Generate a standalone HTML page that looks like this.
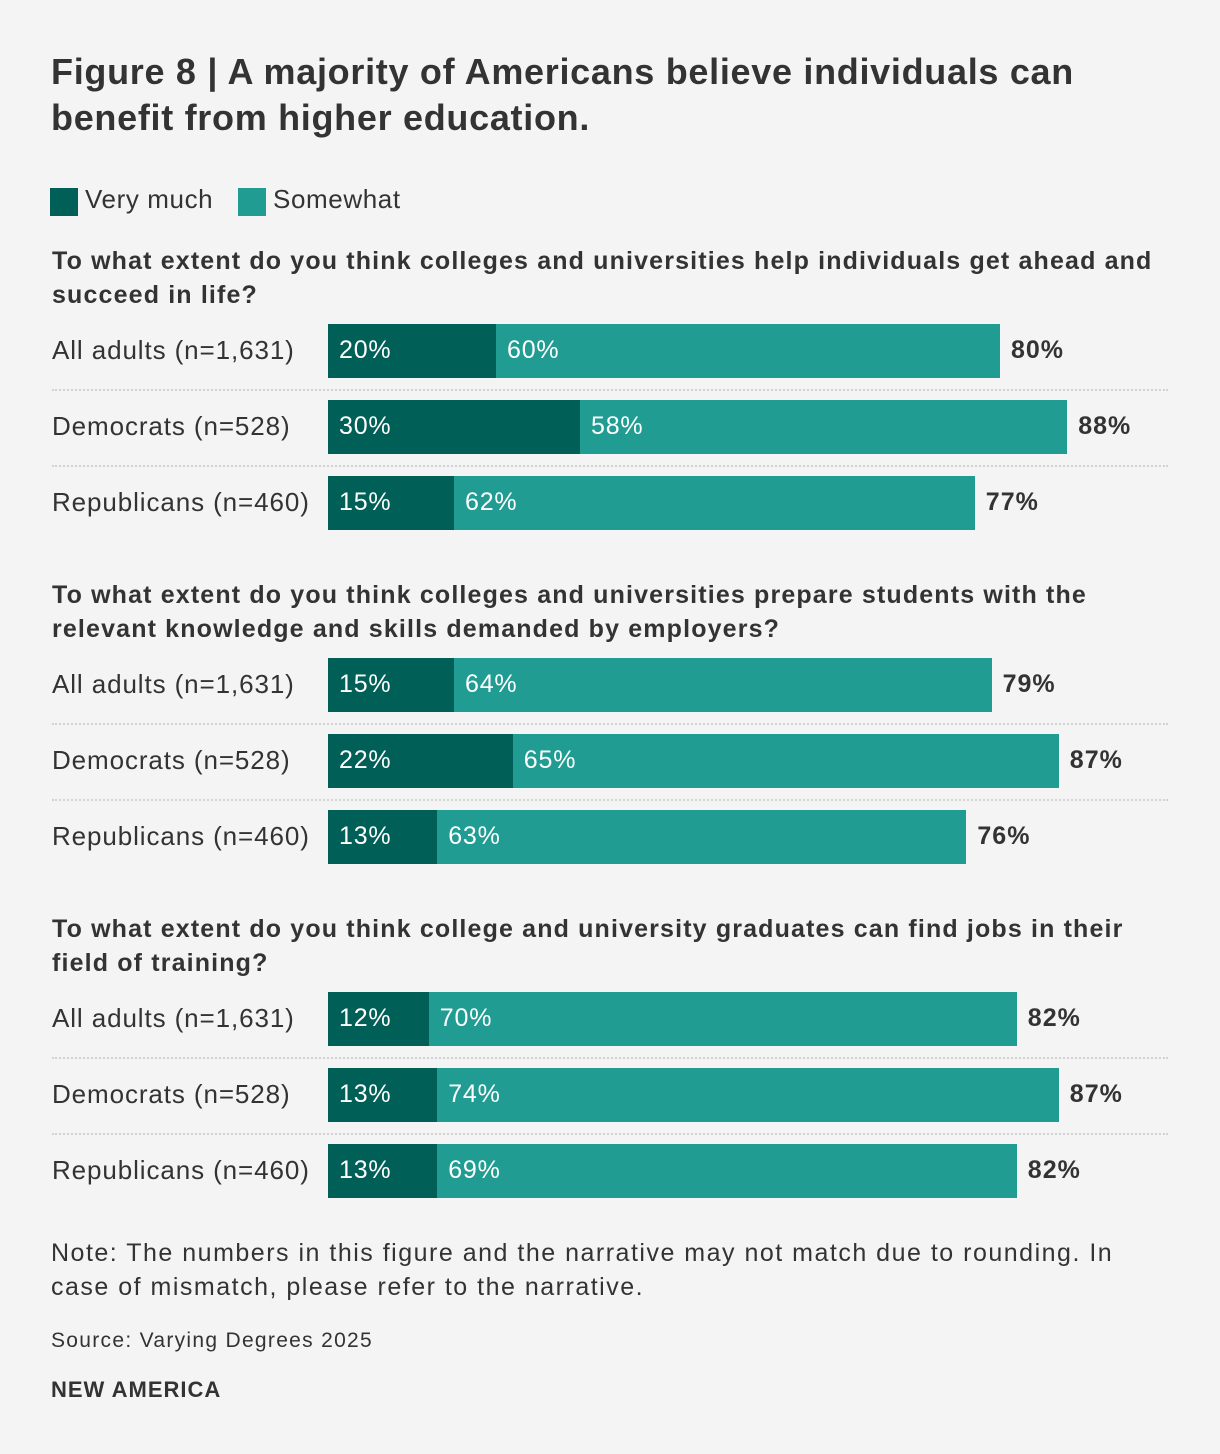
<!DOCTYPE html>
<html><head><meta charset="utf-8"><style>
body{margin:0;background:#f4f4f4;font-family:"Liberation Sans",sans-serif;color:#333;}
#wrap{position:relative;width:1220px;height:1454px;background:#f4f4f4;overflow:hidden}
.t{position:absolute;white-space:nowrap}
</style></head><body>
<div id="wrap">
<div class="t" style="left:51px;top:49px;font-size:36px;letter-spacing:0.7px;font-weight:bold;line-height:46px;color:#333">Figure 8 | A majority of Americans believe individuals can<br>benefit from higher education.</div>
<div>
<div style="position:absolute;left:50px;top:188px;width:28px;height:28px;background:#005f56"></div>
<div class="t" style="left:85px;top:184px;font-size:26px;letter-spacing:0.6px">Very much</div>
<div style="position:absolute;left:238px;top:188px;width:28px;height:28px;background:#209c93"></div>
<div class="t" style="left:273px;top:184px;font-size:26px;letter-spacing:0.6px">Somewhat</div>
</div>
<div id="plot"></div>
<div class="t" style="left:51px;top:1236px;font-size:25px;letter-spacing:1.5px;line-height:34px">Note: The numbers in this figure and the narrative may not match due to rounding. In<br>case of mismatch, please refer to the narrative.</div>
<div class="t" style="left:51px;top:1329px;font-size:21px;letter-spacing:1.3px">Source: Varying Degrees 2025</div>
<div class="t" style="left:51px;top:1377px;font-size:22px;font-weight:bold;letter-spacing:1px">NEW AMERICA</div>
</div>
<script>
const questions=["To what extent do you think colleges and universities help individuals get ahead and|succeed in life?","To what extent do you think colleges and universities prepare students with the|relevant knowledge and skills demanded by employers?","To what extent do you think college and university graduates can find jobs in their|field of training?"];
const groups=["All adults (n=1,631)","Democrats (n=528)","Republicans (n=460)"];
const veryMuch=[[20,30,15],[15,22,13],[12,13,13]];
const somewhat=[[60,58,62],[64,65,63],[70,74,69]];
const totals=[[80,88,77],[79,87,76],[82,87,82]];
const X0=328,PX=8.4;
function x(v){return X0+v*PX;}
const plot=document.getElementById('plot');
function add(tag,css,txt){const e=document.createElement(tag);e.style.cssText=css;if(txt!=null)e.textContent=txt;plot.appendChild(e);return e;}
questions.forEach((q,qi)=>{
  const base=qi*334;
  const qe=add('div','position:absolute;left:52px;top:'+(244+base)+'px;font-size:25px;letter-spacing:1.15px;font-weight:bold;line-height:34px;white-space:nowrap;color:#333');
  qe.innerHTML=q.replace('|','<br>');
  
  
  groups.forEach((g,gi)=>{
    const top=324+base+gi*76;
    const l=add('div','position:absolute;left:52px;top:'+(top+11)+'px;font-size:26px;letter-spacing:0.9px;white-space:nowrap;color:#333',g);
    
    
    const vm=veryMuch[qi][gi],sw=somewhat[qi][gi];
    const b1=add('div','position:absolute;left:'+x(0)+'px;top:'+top+'px;width:'+(x(vm)-x(0))+'px;height:54px;background:#005f56');
    
    
    const b2=add('div','position:absolute;left:'+x(vm)+'px;top:'+top+'px;width:'+(x(vm+sw)-x(vm))+'px;height:54px;background:#209c93');
    
    
    const t1=add('div','position:absolute;left:'+(x(0)+11)+'px;top:'+(top+12)+'px;font-size:25px;letter-spacing:0.8px;color:#fff;white-space:nowrap',vm+'%');
    
    
    const t2=add('div','position:absolute;left:'+(x(vm)+11)+'px;top:'+(top+12)+'px;font-size:25px;letter-spacing:0.8px;color:#fff;white-space:nowrap',sw+'%');
    
    
    const t3=add('div','position:absolute;left:'+(x(vm+sw)+11)+'px;top:'+(top+12)+'px;font-size:25px;letter-spacing:1px;font-weight:bold;color:#333;white-space:nowrap',totals[qi][gi]+'%');
    
    
    if(gi<2){
      const d=add('div','position:absolute;left:52px;top:'+(top+65)+'px;width:1116px;height:0;border-top:2px dotted #d2d2d2');
      
      
    }
  });
});
</script>
</body></html>
